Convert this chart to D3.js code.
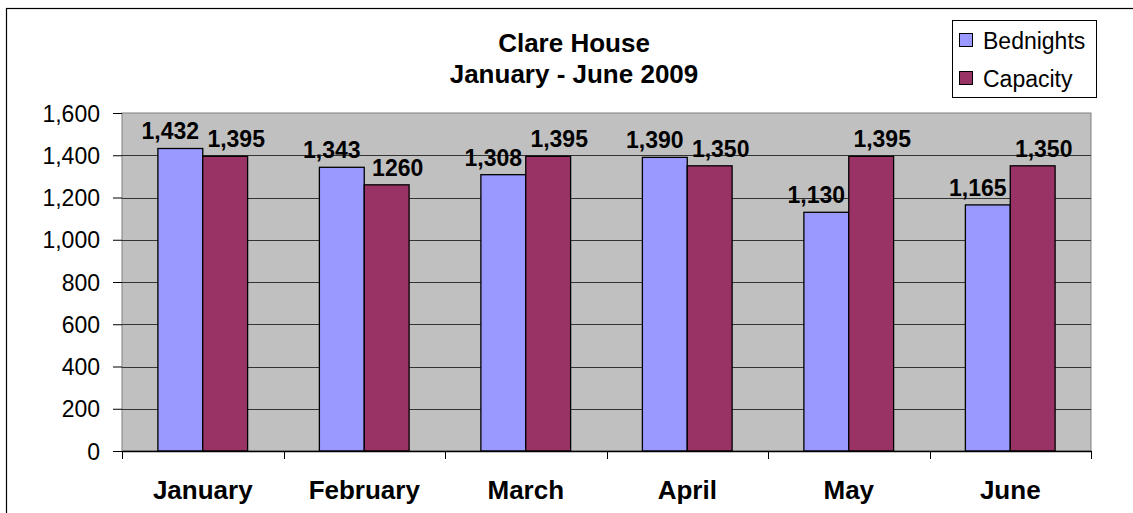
<!DOCTYPE html>
<html>
<head>
<meta charset="utf-8">
<script src="https://cdn.jsdelivr.net/npm/d3@7"></script>
<style>
  body { margin: 0; background: #fff; }
  svg { display: block; font-family: "Liberation Sans", Arial, sans-serif; }
  .yAxis .domain { display: none; }
  .yAxis text { font-size: 23px; fill: #000; }
  .xAxis text { font-size: 26px; font-weight: bold; fill: #000; }
</style>
</head>
<body>
<svg id="chart" width="1133" height="513"></svg>
<script>
// chart values
const months = ['January', 'February', 'March', 'April', 'May', 'June'];
const bednights = [1432, 1343, 1308, 1390, 1130, 1165];
const capacity = [1395, 1260, 1395, 1350, 1395, 1350];
const bednightLabels = ['1,432', '1,343', '1,308', '1,390', '1,130', '1,165'];
const capacityLabels = ['1,395', '1260', '1,395', '1,350', '1,395', '1,350'];
const seriesNames = ['Bednights', 'Capacity'];
const yTicks = [0, 200, 400, 600, 800, 1000, 1200, 1400, 1600];
const titleLines = ['Clare House', 'January - June 2009'];

const colors = ['#9999FF', '#993366'];

const width = 1133, height = 513;
const margin = { top: 113, bottom: 62, left: 122, right: 42 };
const svg = d3.select('#chart');

// outer frame
svg.append('rect')
    .attr('x', 6.5).attr('y', 8.5)
    .attr('width', 1140).attr('height', 520)
    .attr('fill', 'none').attr('stroke', '#000').attr('stroke-width', 1.2);

const xscale = d3.scaleBand()
    .domain(months)
    .range([margin.left, width - margin.right]);

const yscale = d3.scaleLinear()
    .domain([0, 1600])
    .range([height - margin.bottom, margin.top]);

const inner = d3.scaleBand()
    .domain(seriesNames)
    .range([0, xscale.bandwidth()])
    .paddingInner(0)
    .paddingOuter(0.8);

// plot background
svg.append('rect')
    .attr('x', margin.left).attr('y', margin.top)
    .attr('width', width - margin.left - margin.right)
    .attr('height', height - margin.top - margin.bottom)
    .attr('fill', '#C0C0C0')
    .attr('stroke', '#808080').attr('stroke-width', 1);

// gridlines
svg.append('g')
    .attr('class', 'grid')
    .selectAll('line')
    .data(yTicks.filter(d => d > 0 && d < 1600))
    .join('line')
    .attr('x1', margin.left).attr('x2', width - margin.right)
    .attr('y1', d => Math.round(yscale(d)) + 0.5)
    .attr('y2', d => Math.round(yscale(d)) + 0.5)
    .attr('stroke', '#333').attr('stroke-width', 1);

// y axis
let yAxis = d3.axisLeft(yscale)
    .tickValues(yTicks)
    .tickFormat(d3.format(','))
    .tickSize(9)
    .tickPadding(13);
let yG = svg.append('g').attr('class', 'yAxis')
    .attr('transform', `translate(${margin.left},0)`)
    .call(yAxis);
yG.selectAll('.tick line').attr('stroke', '#000');
yG.selectAll('.tick text').attr('dy', '0.35em');

// bars
const groups = svg.append('g').selectAll('g')
    .data(months)
    .join('g')
    .attr('transform', d => `translate(${xscale(d)},0)`);

const seriesData = [bednights, capacity];
groups.selectAll('rect')
    .data((m, i) => seriesNames.map((s, j) => ({ s: s, j: j, v: seriesData[j][i] })))
    .join('rect')
    .attr('x', d => inner(d.s))
    .attr('width', inner.bandwidth())
    .attr('y', d => yscale(d.v))
    .attr('height', d => yscale(0) - yscale(d.v))
    .attr('fill', d => colors[d.j])
    .attr('stroke', '#000').attr('stroke-width', 1.3);

// data labels
const labelShift = [-10, 11];
const labelSets = [bednightLabels, capacityLabels];
groups.selectAll('text.val')
    .data((m, i) => seriesNames.map((s, j) => ({ s: s, j: j, v: seriesData[j][i], t: labelSets[j][i] })))
    .join('text')
    .attr('class', 'val')
    .attr('x', d => inner(d.s) + inner.bandwidth() / 2 + labelShift[d.j])
    .attr('y', d => yscale(d.v) - 9)
    .attr('text-anchor', 'middle')
    .style('font-size', '23px')
    .style('font-weight', 'bold')
    .text(d => d.t);

// x axis
let xAxis = d3.axisBottom(xscale).tickSize(0).tickPadding(30);
let xG = svg.append('g').attr('class', 'xAxis')
    .attr('transform', `translate(0,${yscale(0)})`)
    .call(xAxis);
xG.select('.domain').attr('stroke', '#000').attr('stroke-width', 1.3);

// separator ticks between categories
svg.append('g').selectAll('line')
    .data(months.concat(['end']))
    .join('line')
    .attr('x1', (d, i) => Math.round(margin.left + i * xscale.step()) + 0.5)
    .attr('x2', (d, i) => Math.round(margin.left + i * xscale.step()) + 0.5)
    .attr('y1', yscale(0)).attr('y2', yscale(0) + 8)
    .attr('stroke', '#000');

// title
svg.append('text')
    .attr('x', 574).attr('y', 52)
    .attr('text-anchor', 'middle')
    .style('font-size', '26px').style('font-weight', 'bold')
    .text(titleLines[0]);
svg.append('text')
    .attr('x', 574).attr('y', 83)
    .attr('text-anchor', 'middle')
    .style('font-size', '26px').style('font-weight', 'bold')
    .text(titleLines[1]);

// legend
const legend = svg.append('g').attr('transform', 'translate(952,20)');
legend.append('rect')
    .attr('x', 0.5).attr('y', 0.5).attr('width', 144).attr('height', 77)
    .attr('fill', '#fff').attr('stroke', '#000');
seriesNames.forEach((s, i) => {
    legend.append('rect')
        .attr('x', 7.5).attr('y', 13.5 + i * 38)
        .attr('width', 13).attr('height', 13)
        .attr('fill', colors[i]).attr('stroke', '#000');
    legend.append('text')
        .attr('x', 31).attr('y', 29 + i * 38)
        .style('font-size', '23px')
        .text(s);
});
</script>
</body>
</html>
